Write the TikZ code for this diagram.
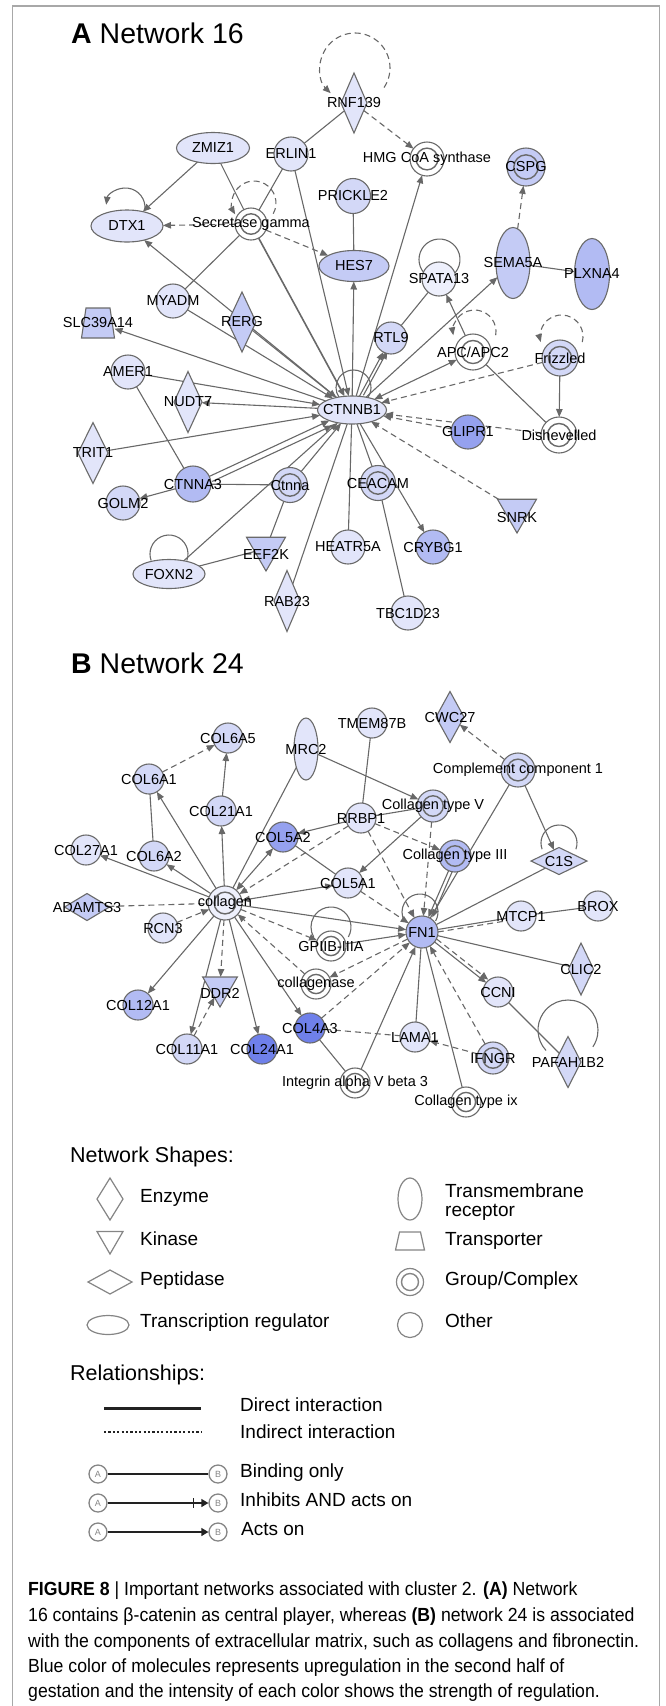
\documentclass[tikz,border=0pt]{standalone}
\usepackage{fontspec}
\setmainfont{Liberation Sans}
\newfontfamily\capfont[FakeStretch=0.93]{Liberation Sans}
\usetikzlibrary{shapes.geometric,arrows.meta,calc}
\pgfdeclarelayer{bg}
\pgfsetlayers{bg,main}
\definecolor{ndline}{HTML}{6A6A6A}
\definecolor{edg}{HTML}{686868}
\definecolor{vl}{HTML}{EEF0FC}
\definecolor{lt}{HTML}{E2E5FA}
\definecolor{lb}{HTML}{D3D8F7}
\definecolor{md}{HTML}{C4CBF5}
\definecolor{mb}{HTML}{B2BBF3}
\definecolor{st}{HTML}{95A1EF}
\definecolor{sx}{HTML}{6F80EA}
\definecolor{framec}{HTML}{A8A8A8}
\definecolor{lg}{HTML}{858585}
\definecolor{rl}{HTML}{222222}
\newcommand{\lblfont}{\fontsize{14.5}{16}\selectfont}
\newcommand{\lgfont}{\fontsize{19}{20}\selectfont}
\newcommand{\hdfont}{\fontsize{21.5}{23}\selectfont}
\newcommand{\cpfont}{\capfont\fontsize{19}{20}\selectfont}
\begin{document}
\begin{tikzpicture}[x=1pt,y=-1pt,
  every label/.style={font=\lblfont, inner sep=0pt, text=black},
  nd/.style={draw=ndline, line width=1.1pt, inner sep=0pt, outer sep=0pt},
  cn/.style={nd, circle, minimum size=#1},
  cn/.default=34pt,
  gc/.style={nd, circle, minimum size=#1, path picture={\draw[ndline, line width=1.4pt] (path picture bounding box.center) circle[radius={0.32*#1}];}},
  gc/.default=34pt,
  el/.style 2 args={nd, ellipse, minimum width=#1, minimum height=#2},
  dm/.style 2 args={nd, diamond, minimum width=#1, minimum height=#2},
  kn/.style={nd, regular polygon, regular polygon sides=3, shape border rotate=180, minimum size=#1},
  ln/.style={draw=edg, line width=1.1pt},
  ar/.style={ln, -{Triangle[length=8pt,width=6.5pt]}},
  arr/.style={ln, {Triangle[length=8pt,width=6.5pt]}-{Triangle[length=8pt,width=6.5pt]}},
  dl/.style={ln, dash pattern=on 6pt off 4pt},
  da/.style={dl, -{Triangle[length=8pt,width=6.5pt]}},
  lgsh/.style={draw=lg, line width=1.2pt, fill=white, inner sep=0pt, outer sep=0pt},
  lgt/.style={anchor=mid west, font=\lgfont, inner sep=0pt},
  hd/.style={anchor=base west, font=\hdfont, inner sep=0pt},
  ab/.style={circle, draw=lg, line width=1.3pt, minimum size=18pt, inner sep=0pt, font=\fontsize{9}{9}\selectfont, text=lg},
  cp/.style={anchor=base west, font=\cpfont, inner sep=0pt}
]
\useasboundingbox (0,0) rectangle (665,1706);
\draw[framec, line width=1.4pt] (12.5,1706) -- (12.5,6) -- (659.5,6) -- (659.5,1706);

% ---------------- Network A ----------------
\node[anchor=base west, font=\fontsize{28.5}{30}\selectfont, inner sep=0pt] (titA) at (71,43) {\textbf{A} Network 16};

\node[dm={26pt}{60pt}, fill=lt, label=center:RNF139] (rnf139) at (354,103) {};
\node[cn, fill=lt, label=center:ERLIN1] (erlin1) at (291,154) {};
\node[el={73pt}{31pt}, fill=lt, label=center:ZMIZ1] (zmiz1) at (213,148) {};
\node[el={72pt}{32pt}, fill=lt, label=center:DTX1] (dtx1) at (127,226) {};
\node[gc=32pt, fill=white, label=center:Secretase gamma] (secg) at (251,224) {};
\node[cn=35pt, fill=lb, label=center:PRICKLE2] (prickle2) at (353,196) {};
\node[gc=34pt, fill=white, label=center:HMG CoA synthase] (hmg) at (427,159) {};
\node[gc=38pt, fill=md, label=center:CSPG] (cspg) at (526,167) {};
\node[el={70pt}{31pt}, fill=md, label=center:HES7] (hes7) at (354,266) {};
\node[cn, fill=vl, label=center:SPATA13] (spata13) at (439,279) {};
\node[el={34pt}{71pt}, fill=md, label=center:SEMA5A] (sema5a) at (513,263) {};
\node[el={35pt}{71pt}, fill=mb, label=center:PLXNA4] (plxna4) at (592,274) {};
\node[cn, fill=lt, label=center:MYADM] (myadm) at (173,301) {};
\node[dm={28pt}{60pt}, fill=md, label=center:RERG] (rerg) at (242,322) {};
\node[rectangle, minimum width=33pt, minimum height=30pt, inner sep=0pt, outer sep=0pt] (slc) at (98,323) {};
\draw[nd, fill=md] (slc.south west) -- ([xshift=4.5pt]slc.north west) -- ([xshift=-4.5pt]slc.north east) -- (slc.south east) -- cycle;
\node[font=\lblfont, inner sep=0pt] (slct) at (slc) {SLC39A14};
\node[el={69pt}{28pt}, fill=lt, label=center:CTNNB1] (ctnnb1) at (352,410) {};
\node[cn=32pt, fill=lb, label=center:RTL9] (rtl9) at (391,338) {};
\node[gc=36pt, fill=white, label=center:APC/APC2] (apc) at (473,352) {};
\node[gc=36pt, fill=lb, label=center:Frizzled] (frizzled) at (560,358) {};
\node[gc=36pt, fill=white, label=center:Dishevelled] (dishev) at (559,435) {};
\node[cn, fill=st, label=center:GLIPR1] (glipr1) at (468,432) {};
\node[kn=45pt, fill=md, label={[yshift=-6.5pt]center:SNRK}] (snrk) at (517,510.5) {};
\node[cn, fill=lt, label=center:AMER1] (amer1) at (128,372) {};
\node[dm={28pt}{61pt}, fill=lt, label=center:NUDT7] (nudt7) at (188,402) {};
\node[dm={30pt}{61pt}, fill=lt, label=center:TRIT1] (trit1) at (93,453) {};
\node[cn=36pt, fill=mb, label=center:CTNNA3] (ctnna3) at (193,484) {};
\node[gc=35pt, fill=lb, label=center:Ctnna] (ctnna) at (290,485) {};
\node[cn, fill=lb, label=center:GOLM2] (golm2) at (123,503) {};
\node[el={72pt}{29pt}, fill=lt, label=center:FOXN2] (foxn2) at (169,574) {};
\node[kn=45pt, fill=md, label={[yshift=-5.5pt]center:EEF2K}] (eef2k) at (266,548.5) {};
\node[dm={26pt}{61pt}, fill=lt, label=center:RAB23] (rab23) at (287,601) {};
\node[cn, fill=lt, label=center:HEATR5A] (heatr5a) at (348,547) {};
\node[gc=35pt, fill=lb, label=center:CEACAM] (ceacam) at (378,483) {};
\node[cn, fill=mb, label=center:CRYBG1] (crybg1) at (433,547) {};
\node[cn, fill=lt, label=center:TBC1D23] (tbc1d23) at (408,613) {};

\begin{pgfonlayer}{bg}
% loops
\draw[da] ($(rnf139.center)+(1,-35)+(34:35)$) arc[start angle=34, end angle=-226, radius=35];
\draw[ar] ($(dtx1.center)+(-1.5,-18.5)+(7:19.5)$) arc[start angle=7, end angle=-172, radius=19.5];
\draw[da] ($(secg.center)+(3,-21)+(29:22)$) arc[start angle=29, end angle=-211, radius=22];
\draw[ln] ($(spata13.center)+(0.5,-19.5)+(40:20.5)$) arc[start angle=40, end angle=-220, radius=20.5];
\draw[ln] ($(ctnnb1.center)+(1.5,-22.5)+(35:17.5)$) arc[start angle=35, end angle=-215, radius=17.5];
\draw[da] ($(apc.center)+(1.5,-20.5)+(10:21.5)$) arc[start angle=10, end angle=-190, radius=21.5];
\draw[da] ($(frizzled.center)+(1.5,-21.5)+(15:21.5)$) arc[start angle=15, end angle=-195, radius=21.5];
\draw[ln] ($(foxn2.center)+(0,-20)+(20:19)$) arc[start angle=20, end angle=-200, radius=19];
% edges
\draw[ln] (erlin1) -- (rnf139);
\draw[da] (rnf139) -- (hmg);
\draw[ar] (zmiz1) -- (dtx1);
\draw[da] (secg) -- (dtx1);
\draw[ln] (zmiz1) -- (secg);
\draw[ln] (erlin1) -- (secg);
\draw[ar] (erlin1) -- (ctnnb1);
\draw[da] (secg) -- (hes7);
\draw[ln] (secg) -- (myadm);
\draw[ar] (myadm) -- (ctnnb1);
\draw[ar] (ctnnb1) -- (dtx1);
\draw[ar] (rerg) -- (ctnnb1);
\draw[ar, line width=1.6pt] (secg) -- (ctnnb1);
\draw[ar] (ctnnb1) -- (hes7);
\draw[ln] (prickle2) -- (hes7);
\draw[ar] (ctnnb1) -- (hmg);
\draw[ar] (ctnnb1) -- (rtl9);
\draw[ar, transform canvas={shift={(4pt,1pt)}}] (ctnnb1) -- (rtl9);
\draw[ln] (rtl9) -- (spata13);
\draw[ar] (ctnnb1) -- (sema5a);
\draw[ln] (sema5a) -- (plxna4);
\draw[da] (sema5a) -- (cspg);
\draw[ar] (apc) -- (spata13);
\draw[arr] (ctnnb1) -- (apc);
\draw[da] (frizzled) -- (ctnnb1);
\draw[ar] (frizzled) -- (dishev);
\draw[ln] (apc) -- (dishev);
\draw[da] (dishev) -- (ctnnb1);
\draw[da] (glipr1) -- (ctnnb1);
\draw[da] (snrk) -- (ctnnb1);
\draw[ln] (ctnnb1) -- (ceacam);
\draw[ar] (ctnnb1) -- (crybg1);
\draw[ln] (ceacam) -- (tbc1d23);
\draw[ln] (ctnnb1) -- (heatr5a);
\draw[ln] (rab23) -- (ctnnb1);
\draw[ln] (ctnna) -- (eef2k);
\draw[ar] (ctnna) -- (ctnnb1);
\draw[ln] (ctnna) -- (ctnna3);
\draw[ar] (ctnna3) -- (ctnnb1);
\draw[ar, transform canvas={shift={(3pt,-5pt)}}] (ctnna3) -- (ctnnb1);
\draw[ar] (ctnna3) -- (golm2);
\draw[ln] (amer1) -- (ctnna3);
\draw[ar] (amer1) -- (ctnnb1);
\draw[ar] (ctnnb1) -- (nudt7);
\draw[ar] (ctnnb1) -- (slc);
\draw[ar] (trit1) -- (ctnnb1);
\draw[ar] (foxn2) -- (ctnnb1);
\draw[ln] (foxn2) -- (eef2k);
\end{pgfonlayer}

% ---------------- Network B ----------------
\node[anchor=base west, font=\fontsize{28.5}{30}\selectfont, inner sep=0pt] (titB) at (71,673) {\textbf{B} Network 24};

\node[cn=30pt, fill=lb, label=center:COL6A5] (col6a5) at (228,738) {};
\node[cn=30pt, fill=lb, label=center:COL6A1] (col6a1) at (149,779) {};
\node[el={24pt}{62pt}, fill=lt, label=center:MRC2] (mrc2) at (306,749) {};
\node[cn=30pt, fill=lt, label=center:TMEM87B] (tmem87b) at (372,723) {};
\node[dm={28pt}{51pt}, fill=md, label=center:CWC27] (cwc27) at (450,717) {};
\node[gc=34pt, fill=lb, label=center:Complement component 1] (cc1) at (518,770) {};
\node[cn=30pt, fill=lb, label=center:COL21A1] (col21a1) at (221,811) {};
\node[cn=30pt, fill=lt, label=center:COL27A1] (col27a1) at (86,850) {};
\node[cn=30pt, fill=lb, label=center:COL6A2] (col6a2) at (154,856) {};
\node[cn=30pt, fill=st, label=center:COL5A2] (col5a2) at (283,837) {};
\node[cn=30pt, fill=lt, label=center:RRBP1] (rrbp1) at (361,818) {};
\node[gc=32pt, fill=lb, label=center:Collagen type V] (coltv) at (433,806) {};
\node[gc=32pt, fill=mb, label=center:Collagen type III] (coltiii) at (455,856) {};
\node[dm={56pt}{27pt}, fill=lb, label=center:C1S] (c1s) at (559,861) {};
\node[cn=30pt, fill=lt, label=center:COL5A1] (col5a1) at (348,883) {};
\node[gc=34pt, fill=vl, label=center:collagen] (collagen) at (225,903) {};
\node[dm={45pt}{27pt}, fill=md, label=center:ADAMTS3] (adamts3) at (87,907) {};
\node[cn=30pt, fill=lt, label=center:RCN3] (rcn3) at (163,928) {};
\node[gc=30pt, fill=white, label=center:GPIIB-IIIA] (gpiib) at (331,946) {};
\node[cn=32pt, fill=mb, label=center:FN1] (fn1) at (422,932) {};
\node[cn=30pt, fill=lt, label=center:MTCP1] (mtcp1) at (521,916) {};
\node[cn=30pt, fill=lt, label=center:BROX] (brox) at (598,906) {};
\node[dm={25pt}{52pt}, fill=lb, label=center:CLIC2] (clic2) at (581,969) {};
\node[gc=30pt, fill=white, label=center:collagenase] (collagenase) at (316,984) {};
\node[kn=40pt, fill=md, label={[yshift=-6pt]center:DDR2}] (ddr2) at (220,987) {};
\node[cn=30pt, fill=mb, label=center:COL12A1] (col12a1) at (138,1005) {};
\node[cn=30pt, fill=lb, label=center:COL11A1] (col11a1) at (187,1049) {};
\node[cn=30pt, fill=sx, label=center:COL24A1] (col24a1) at (262,1049) {};
\node[cn=30pt, fill=sx, label=center:COL4A3] (col4a3) at (310,1028) {};
\node[cn=30pt, fill=lt, label=center:LAMA1] (lama1) at (415,1037) {};
\node[cn=30pt, fill=lt, label=center:CCNI] (ccni) at (498,992) {};
\node[gc=32pt, fill=lb, label=center:IFNGR] (ifngr) at (493,1058) {};
\node[dm={26pt}{51pt}, fill=lb, label=center:PAFAH1B2] (pafah1b2) at (568,1062) {};
\node[gc=30pt, fill=white, label=center:Integrin alpha V beta 3] (integrin) at (355,1083) {};
\node[gc=30pt, fill=white, label=center:Collagen type ix] (coltix) at (466,1102) {};

\begin{pgfonlayer}{bg}
\draw[ln] ($(c1s.center)+(0,-18)+(20:18)$) arc[start angle=20, end angle=-200, radius=18];
\draw[ln] ($(gpiib.center)+(0,-19)+(30:20)$) arc[start angle=30, end angle=-210, radius=20];
\draw[ln] ($(fn1.center)+(-2,-20)+(30:18)$) arc[start angle=30, end angle=-210, radius=18];
\draw[ln] ($(pafah1b2.center)+(0,-32)+(34:30)$) arc[start angle=34, end angle=-223, radius=30];
\draw[da] (col6a1) -- (col6a5);
\draw[ar] (col21a1) -- (col6a5);
\draw[ar] (collagen) -- (col21a1);
\draw[ar] (collagen) -- (col6a1);
\draw[ln] (col6a1) -- (col6a2);
\draw[ar] (collagen) -- (col6a2);
\draw[ar] (collagen) -- (col27a1);
\draw[ln] (collagen) -- (mrc2);
\draw[arr] (collagen) -- (col5a2);
\draw[ar] (rrbp1) -- (col5a2);
\draw[da] (rrbp1) -- (collagen);
\draw[arr] (collagen) -- (col5a1);
\draw[ln] (col5a2) -- (col5a1);
\draw[ln] (tmem87b) -- (rrbp1);
\draw[ar] (mrc2) -- (coltv);
\draw[ln] (rrbp1) -- (coltv);
\draw[da] (rrbp1) -- (coltiii);
\draw[da] (rrbp1) -- (fn1);
\draw[ar] (coltv) -- (col5a1);
\draw[da] (coltv) -- (fn1);
\draw[ar] (coltiii) -- (fn1);
\draw[ar, transform canvas={shift={(4pt,0pt)}}] (coltiii) -- (fn1);
\draw[da] (cc1) -- (cwc27);
\draw[ar] (cc1) -- (c1s);
\draw[ln] (cc1) -- (fn1);
\draw[ln] (c1s) -- (fn1);
\draw[da] (col5a1) -- (fn1);
\draw[ar] (collagen) -- (fn1);
\draw[ln] (fn1) -- (mtcp1);
\draw[dl, transform canvas={shift={(0pt,-2.5pt)}}] (fn1) -- (mtcp1);
\draw[ln] (mtcp1) -- (brox);
\draw[ln] (fn1) -- (clic2);
\draw[ar] (fn1) -- (ccni);
\draw[da, transform canvas={shift={(2pt,3pt)}}] (fn1) -- (ccni);
\draw[ln] (ccni) -- (pafah1b2);
\draw[ar] (gpiib) -- (fn1);
\draw[da] (collagen) -- (gpiib);
\draw[da] (collagenase) -- (collagen);
\draw[da] (fn1) -- (collagenase);
\draw[da] (col4a3) -- (fn1);
\draw[ar] (integrin) -- (fn1);
\draw[ln] (col4a3) -- (integrin);
\draw[dl] (col4a3) -- (lama1);
\draw[da] (ifngr) -- (lama1);
\draw[da] (ifngr) -- (fn1);
\draw[ln] (fn1) -- (lama1);
\draw[ln] (fn1) -- (coltix);
\draw[ar] (collagen) -- (col12a1);
\draw[da] (collagen) -- (ddr2);
\draw[ar] (collagen) -- (col11a1);
\draw[da] (col11a1) -- (ddr2);
\draw[ar] (collagen) -- (col24a1);
\draw[ar] (collagen) -- (col4a3);
\draw[dl] (adamts3) -- (collagen);
\draw[da] (rcn3) -- (collagen);
\end{pgfonlayer}

% ---------------- Legend ----------------
\node[hd] (lgs) at (70,1162) {Network Shapes:};
\node[lgsh, diamond, minimum width=26pt, minimum height=42pt] (ls1) at (110,1199) {};
\node[lgt] (lt1) at (140,1200) {Enzyme};
\node[lgsh, regular polygon, regular polygon sides=3, shape border rotate=180, minimum size=30pt] (ls2) at (110,1239) {};
\node[lgt] (lt2) at (140,1243) {Kinase};
\node[lgsh, diamond, minimum width=44pt, minimum height=24pt] (ls3) at (110,1282) {};
\node[lgt] (lt3) at (140,1283) {Peptidase};
\node[lgsh, ellipse, minimum width=42pt, minimum height=19pt] (ls4) at (108,1325) {};
\node[lgt] (lt4) at (140,1325) {Transcription regulator};
\node[lgsh, ellipse, minimum width=24pt, minimum height=42pt] (ls5) at (410,1199) {};
\node[lgt] (lt5a) at (445,1195) {Transmembrane};
\node[lgt] (lt5b) at (445,1214) {receptor};
\node[rectangle, minimum width=29pt, minimum height=18pt, inner sep=0pt, outer sep=0pt] (ls6) at (410,1241) {};
\draw[lgsh] (ls6.south west) -- ([xshift=4pt]ls6.north west) -- ([xshift=-4pt]ls6.north east) -- (ls6.south east) -- cycle;
\node[lgt] (lt6) at (445,1243) {Transporter};
\node[lgsh, circle, minimum size=27pt, path picture={\draw[lg, line width=1.4pt] (path picture bounding box.center) circle[radius=8.5pt];}] (ls7) at (410,1282) {};
\node[lgt] (lt7) at (445,1283) {Group/Complex};
\node[lgsh, circle, minimum size=25pt] (ls8) at (410,1325) {};
\node[lgt] (lt8) at (445,1325) {Other};

\node[hd] (lrel) at (70,1380) {Relationships:};
\coordinate (r1a) at (104,1408);
\coordinate (r1b) at (201,1408);
\draw[rl, line width=3pt] (r1a) -- (r1b);
\node[lgt] (lr1) at (240,1409) {Direct interaction};
\coordinate (r2a) at (104,1432);
\coordinate (r2b) at (201,1432);
\draw[rl, line width=2pt, dash pattern=on 2.2pt off 2.2pt] (r2a) -- (r2b);
\node[lgt] (lr2) at (240,1436) {Indirect interaction};
\node[ab] (ra1) at (98,1474) {A};
\node[ab] (rb1) at (218,1474) {B};
\draw[rl, line width=1.3pt] (ra1) -- (rb1);
\node[lgt] (lr3) at (240,1475) {Binding only};
\node[ab] (ra2) at (98,1503) {A};
\node[ab] (rb2) at (218,1503) {B};
\draw[rl, line width=1.3pt, -{Triangle[length=7pt,width=8pt]}] (ra2) -- (rb2);
\draw[rl, line width=1.3pt] ([xshift=-15pt]rb2.west) ++(0,-5) -- ++(0,10);
\node[lgt] (lr4) at (240,1504) {Inhibits AND acts on};
\node[ab] (ra3) at (98,1532) {A};
\node[ab] (rb3) at (218,1532) {B};
\draw[rl, line width=1.3pt, -{Triangle[length=7pt,width=8pt]}] (ra3) -- (rb3);
\node[lgt] (lr5) at (241,1533) {Acts on};

% ---------------- Caption ----------------
\node[cp] (cap1) at (28,1595) {\textbf{FIGURE 8} | Important networks associated with cluster 2. \textbf{(A)} Network};
\node[cp] (cap2) at (28,1621) {16 contains β-catenin as central player, whereas \textbf{(B)} network 24 is associated};
\node[cp] (cap3) at (28,1647) {with the components of extracellular matrix, such as collagens and fibronectin.};
\node[cp] (cap4) at (28,1672) {Blue color of molecules represents upregulation in the second half of};
\node[cp] (cap5) at (28,1697) {gestation and the intensity of each color shows the strength of regulation.};
\end{tikzpicture}
\end{document}
